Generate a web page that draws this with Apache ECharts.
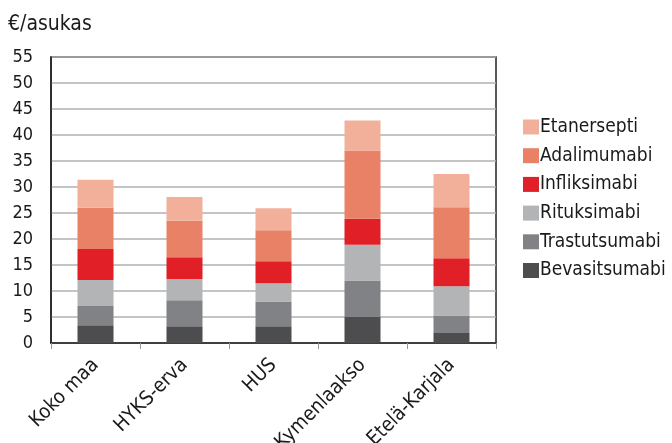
<!DOCTYPE html>
<html>
<head>
<meta charset="utf-8">
<script src="https://cdn.jsdelivr.net/npm/echarts@6/dist/echarts.min.js"></script>
<style>
  html, body { margin: 0; padding: 0; background: #fff; }
  #chart { width: 672px; height: 443px; }
</style>
</head>
<body>
<div id="chart"></div>
<script>
// Biologic drug costs per inhabitant by region (€/asukas)
const categories = ['Koko maa', 'HYKS-erva', 'HUS', 'Kymenlaakso', 'Etelä-Karjala'];

const bevasitsumabi = [3.4, 3.2, 3.2, 5.1, 1.9];
const trastutsumabi = [3.7, 5.0, 4.8, 6.9, 3.4];
const rituksimabi   = [5.0, 4.1, 3.5, 6.9, 5.6];
const infliksimabi  = [6.0, 4.2, 4.2, 5.0, 5.4];
const adalimumabi   = [7.9, 7.0, 6.0, 13.1, 9.8];
const etanersepti   = [5.4, 4.6, 4.2, 5.8, 6.4];

const yTicks = { min: 0, max: 55, interval: 5 };

const FONT = '"DejaVu Sans Condensed", "DejaVu Sans", sans-serif';
const INK = '#1a1a1a';
const stack = [
  { name: 'Bevasitsumabi', data: bevasitsumabi, color: '#4d4d4f' },
  { name: 'Trastutsumabi', data: trastutsumabi, color: '#818285' },
  { name: 'Rituksimabi',   data: rituksimabi,   color: '#b2b4b6' },
  { name: 'Infliksimabi',  data: infliksimabi,  color: '#e01f26' },
  { name: 'Adalimumabi',   data: adalimumabi,   color: '#e98166' },
  { name: 'Etanersepti',   data: etanersepti,   color: '#f2b09a' }
];

const chart = echarts.init(document.getElementById('chart'));
chart.setOption({
  animation: false,
  textStyle: { fontFamily: FONT, color: INK },
  grid: {
    left: 51, right: 176, top: 57, bottom: 100,
    outerBoundsMode: 'none',
    containLabel: false,
    show: true, borderColor: '#222', borderWidth: 1.5
  },
  legend: {
    orient: 'vertical',
    left: 518, top: 112,
    itemWidth: 16, itemHeight: 15, itemGap: 8.7,
    icon: 'rect',
    textStyle: { fontSize: 19, lineHeight: 20, color: INK, fontFamily: FONT, padding: [0, 0, 0, -4] },
    data: stack.map(s => s.name).reverse()
  },
  xAxis: {
    type: 'category',
    data: categories,
    axisLine: { lineStyle: { color: '#222', width: 1.5 } },
    axisTick: { show: true, length: 6, lineStyle: { color: '#999', width: 1 } },
    axisLabel: { rotate: 45, fontSize: 20, color: INK, margin: 19, interval: 0 }
  },
  yAxis: {
    type: 'value',
    min: yTicks.min, max: yTicks.max, interval: yTicks.interval,
    name: '€/asukas',
    nameLocation: 'end',
    nameGap: 22,
    nameTextStyle: { fontSize: 21, color: INK, align: 'left', padding: [0, 0, 0, -43] },
    axisLine: { show: true, lineStyle: { color: '#222', width: 1.5 } },
    axisTick: { show: false },
    axisLabel: { fontSize: 18, color: INK, margin: 18 },
    splitLine: { lineStyle: { color: '#b0b0b0', width: 1.5 } }
  },
  series: stack.map(s => ({
    name: s.name,
    type: 'bar',
    stack: 'total',
    barWidth: 36,
    data: s.data,
    itemStyle: { color: s.color }
  }))
});
</script>
</body>
</html>
